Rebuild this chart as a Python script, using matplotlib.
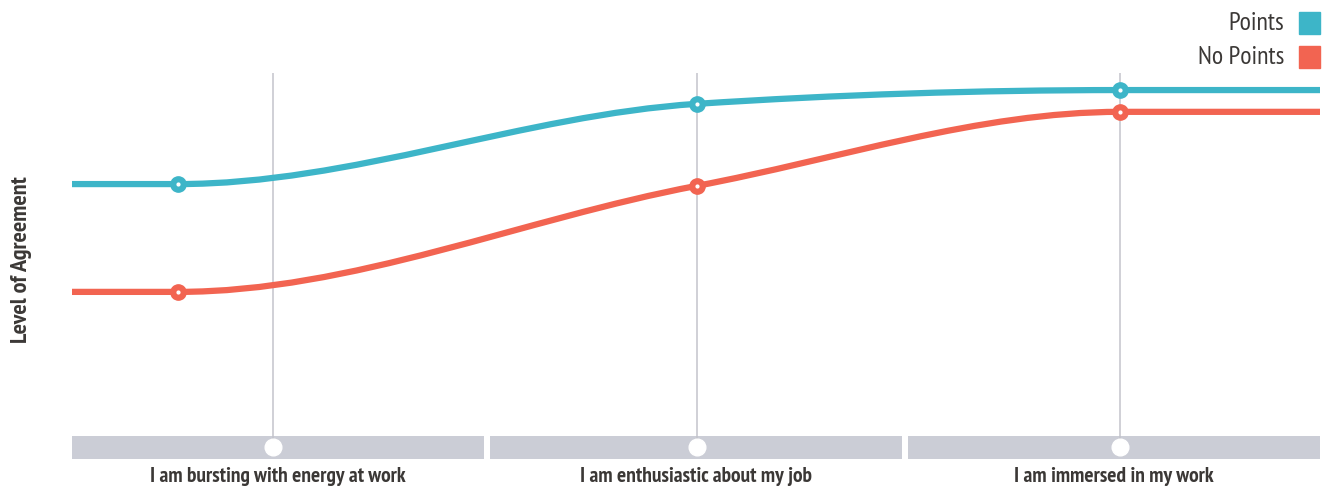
import matplotlib
matplotlib.use('Agg')
import matplotlib.pyplot as plt
from matplotlib.path import Path
from matplotlib.patches import PathPatch, Rectangle
import numpy as np

# dados (nivel de concordancia, escala 0-100 relativa)
categorias = ['I am bursting with energy at work', 'I am enthusiastic about my job', 'I am immersed in my work']
x_pontos = [-0.224, 1.0, 2.0]          # posicao dos marcadores (em unidades de categoria)
points = [69.4, 91.5, 95.3]
no_points = [39.7, 68.9, 89.3]
series = ['Points', 'No Points']

cor_azul = '#3db5c8'
cor_verm = '#f26451'
cor_banda = '#cbcdd6'
cor_texto = '#3b3836'
fonte = ['PT Sans Narrow', 'Roboto Condensed', 'Archivo Narrow', 'DejaVu Sans']

x_min, x_max = -0.475, 2.472
y_min, y_max = -6.34, 100


def monotone_path(xs, ys):
    # curva monotona (mesma ideia do curveMonotoneX do d3)
    xs = np.asarray(xs, float)
    ys = np.asarray(ys, float)
    n = len(xs)
    h = np.diff(xs)
    s = np.diff(ys) / h
    t = np.zeros(n)
    for i in range(1, n - 1):
        p = (s[i - 1] * h[i] + s[i] * h[i - 1]) / (h[i - 1] + h[i])
        t[i] = (np.sign(s[i - 1]) + np.sign(s[i])) * min(abs(s[i - 1]), abs(s[i]), 0.5 * abs(p))
    t[0] = (3 * s[0] - t[1]) / 2
    t[-1] = (3 * s[-1] - t[-2]) / 2
    verts = [(xs[0], ys[0])]
    codes = [Path.MOVETO]
    for i in range(n - 1):
        dx = h[i] / 3
        verts += [(xs[i] + dx, ys[i] + dx * t[i]), (xs[i + 1] - dx, ys[i + 1] - dx * t[i + 1]), (xs[i + 1], ys[i + 1])]
        codes += [Path.CURVE4] * 3
    return Path(verts, codes)


fig = plt.figure(figsize=(13.25, 4.91), dpi=100)
ax = fig.add_axes([72 / 1325, (491 - 459) / 491, (1320 - 72) / 1325, (459 - 73) / 491])
ax.set_xlim(x_min, x_max)
ax.set_ylim(y_min, y_max)
ax.axis('off')

# bandas das categorias
passo, largura = 0.987, 0.973
for i in range(3):
    x0 = x_min + i * passo
    ax.add_patch(Rectangle((x0, y_min), largura, -y_min, color=cor_banda, lw=0, zorder=1))
    ax.text(x0 + largura / 2, y_min - 4.9, categorias[i], ha='center', va='center', fontsize=15.5, fontweight='bold',
            color=cor_texto, family=fonte, clip_on=False)
    ax.plot([i, i], [y_min / 2, y_max], color='#c3c3cb', lw=1.1, zorder=2)
    ax.plot(i, y_min / 2, marker='o', ms=12, mfc='white', mec='white', zorder=3)

# linhas
for vals, cor in [(points, cor_azul), (no_points, cor_verm)]:
    xs = [x_min] + x_pontos + [x_max]
    ys = [vals[0]] + vals + [vals[-1]]
    ax.add_patch(PathPatch(monotone_path(xs, ys), fill=False, edgecolor=cor, lw=4.5, capstyle='butt', zorder=4))
    ax.plot(x_pontos, vals, linestyle='', marker='o', ms=11, mfc=cor, mec=cor, zorder=5)
    ax.plot(x_pontos, vals, linestyle='', marker='o', ms=2, mfc='white', mec='white', zorder=6)

# legenda
for j, (nome, cor) in enumerate(zip(series, [cor_azul, cor_verm])):
    yc = 1 - (23 + 34 * j) / 491
    fig.text(1284 / 1325, yc, nome, ha='right', va='center', fontsize=18.5, color=cor_texto, family=fonte)
    fig.patches.append(Rectangle((1299 / 1325, yc - 11 / 491), 21 / 1325, 22 / 491, color=cor,
                                 transform=fig.transFigure, figure=fig))

fig.text(22 / 1325, 1 - 260 / 491, 'Level of Agreement', rotation=90, ha='center', va='center', fontsize=17.5,
         fontweight='bold', color=cor_texto, family=fonte)

plt.savefig('out.png', dpi=100)
